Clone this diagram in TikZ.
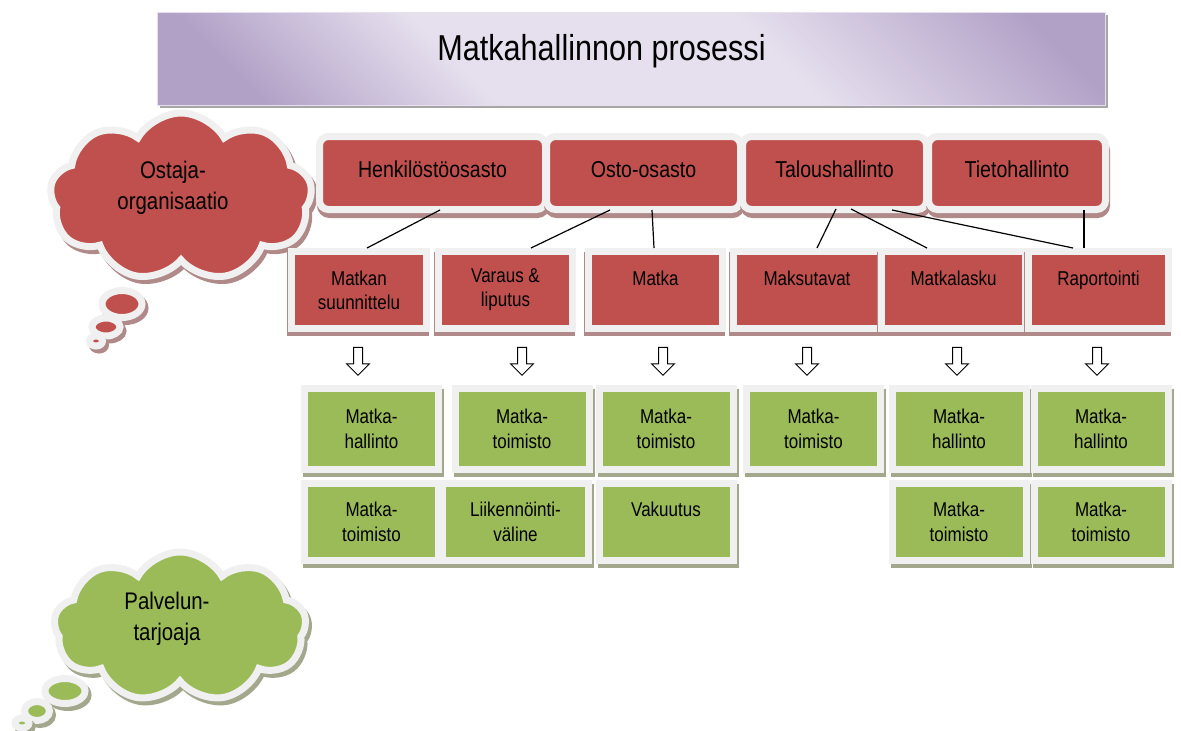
\documentclass[tikz,border=0pt]{standalone}
\usepackage{fontspec}
\setmainfont{Liberation Sans}[FakeStretch=0.85]
\usetikzlibrary{shapes.symbols,shapes.arrows}

\definecolor{deptred}{HTML}{C0504D}
\definecolor{deptshadow}{HTML}{B08A89}
\definecolor{provgreen}{HTML}{9BBB59}
\definecolor{provshadow}{HTML}{A3A78C}
\definecolor{framegray}{HTML}{F0F0F0}
\definecolor{lavlight}{HTML}{E6E0EE}
\definecolor{lavdark}{HTML}{B2A1C7}
\pgfdeclarehorizontalshading{titleshade}{100bp}{color(0bp)=(lavdark); color(22bp)=(lavdark);
  color(38bp)=(lavlight); color(60bp)=(lavlight); color(80bp)=(lavdark); color(100bp)=(lavdark)}

\begin{document}
\begin{tikzpicture}[x=1pt, y=-1pt,
  titlebox/.style={minimum width=948pt, minimum height=93pt, draw=lavlight, line width=0.8pt,
                   shading=titleshade, shading angle=45,
                   preaction={fill=black!35, transform canvas={xshift=3pt, yshift=-3pt}}},
  titlefont/.style={font=\fontsize{36}{40}\selectfont, inner sep=0pt},
  deptbox/.style={rounded corners=9pt, fill=deptred, draw=framegray, line width=7pt,
                  preaction={draw=deptshadow, fill=deptshadow, line width=7pt,
                             transform canvas={xshift=1pt, yshift=-5pt}},
                  minimum height=73pt, text height=17pt, text depth=8pt, inner sep=0pt,
                  font=\fontsize{23}{27}\selectfont},
  taskbox/.style={fill=deptred, draw=framegray, line width=7pt,
                  preaction={draw=deptshadow, fill=deptshadow, line width=7pt,
                             transform canvas={xshift=-1pt, yshift=-4pt}},
                  minimum height=77pt, align=center, inner sep=0pt,
                  font=\fontsize{20}{24}\selectfont},
  provbox/.style={fill=provgreen, draw=framegray, line width=7pt,
                  preaction={draw=provshadow, fill=provshadow, line width=7pt,
                             transform canvas={xshift=2pt, yshift=-4pt}},
                  minimum width=134pt, minimum height=81pt, align=center, inner sep=0pt,
                  font=\fontsize{20}{25}\selectfont},
  redpuff/.style={fill=deptred, draw=framegray, line width=7pt,
                  preaction={draw=deptshadow, fill=deptshadow, line width=7pt,
                             transform canvas={xshift=3pt, yshift=-4pt}}},
  greenpuff/.style={fill=provgreen, draw=framegray, line width=7pt,
                    preaction={draw=provshadow, fill=provshadow, line width=7pt,
                               transform canvas={xshift=3pt, yshift=-4pt}}},
  cloudbase/.style={cloud, cloud puffs=9, cloud puff arc=120, cloud ignores aspect},
  cloudtext/.style={align=center, inner sep=0pt, font=\fontsize{24}{31}\selectfont},
  downarr/.style={single arrow, draw=black, fill=white, line width=1pt, minimum height=28pt,
                  inner sep=4pt, single arrow head extend=7pt, single arrow head indent=0pt,
                  shape border rotate=270},
  link/.style={line width=1.2pt, black}
]
\useasboundingbox (0,0) rectangle (1181,731);

% clouds
\node[cloudbase, redpuff, minimum width=262pt, minimum height=168pt] (buyer) at (181,197) {};
\draw[redpuff] (122,304) ellipse [x radius=20pt, y radius=13.5pt];
\draw[redpuff] (106,327) ellipse [x radius=14pt, y radius=9pt];
\draw[redpuff] (96,341) ellipse [x radius=6.5pt, y radius=5pt];
\node[cloudtext] (buyertext) at ([xshift=-8pt, yshift=9pt]buyer.center) {Ostaja-\\organisaatio};

\node[cloudbase, greenpuff, minimum width=252pt, minimum height=150pt] (provider) at (180,627) {};
\draw[greenpuff] (65,691) ellipse [x radius=20pt, y radius=12.5pt];
\draw[greenpuff] (37,711) ellipse [x radius=12.5pt, y radius=9.5pt];
\draw[greenpuff] (22,723) ellipse [x radius=7pt, y radius=5pt];
\node[cloudtext] (providertext) at ([xshift=-13pt, yshift=8pt]provider.center) {Palvelun-\\tarjoaja};

% title
\node[titlebox] (titlebar) at (631,58.5) {};
\node[titlefont] (titletext) at ([xshift=-29.5pt, yshift=7pt]titlebar.center) {Matkahallinnon prosessi};

% departments
\node[deptbox, minimum width=226pt] (henk) at (432.5,173) {Henkilöstöosasto};
\node[deptbox, minimum width=194pt] (osto) at (643.5,173) {Osto-osasto};
\node[deptbox, minimum width=184pt] (talous) at (834.5,173) {Taloushallinto};
\node[deptbox, minimum width=177pt] (tieto) at (1017,173) {Tietohallinto};

% process steps
\node[taskbox, minimum width=135pt] (plan) at (359,290) {Matkan\\suunnittelu};
\node[taskbox, minimum width=134pt] (booking) at (505.5,290) {Varaus \&\\liputus};
\node[taskbox, minimum width=134pt] (trip) at (655.5,290) {Matka\\\mbox{}};
\node[taskbox, minimum width=147pt] (payment) at (807,290) {Maksutavat\\\mbox{}};
\node[taskbox, minimum width=144pt] (expense) at (953.5,290) {Matkalasku\\\mbox{}};
\node[taskbox, minimum width=140pt] (report) at (1098.5,290) {Raportointi\\\mbox{}};

\draw[link] ([xshift=7.5pt, yshift=3pt]henk.south) -- ([xshift=8pt]plan.north);
\draw[link] ([xshift=-33.5pt, yshift=3pt]osto.south) -- ([xshift=25.5pt]booking.north);
\draw[link] ([xshift=8.5pt, yshift=3pt]osto.south) -- ([xshift=-1.5pt]trip.north);
\draw[link] ([xshift=1.5pt, yshift=4pt]talous.south) -- ([xshift=10pt]payment.north);
\draw[link] ([xshift=16.5pt, yshift=4pt]talous.south) -- ([xshift=-26.5pt]expense.north);
\draw[link] ([xshift=57.5pt, yshift=3pt]talous.south) -- ([xshift=-25.5pt]report.north);
\draw[link] ([xshift=67pt, yshift=3pt]tieto.south) -- ([xshift=-14.5pt]report.north);

% arrows down
\node[downarr] (arr1) at (358,359) {};
\node[downarr] (arr2) at (522,359) {};
\node[downarr] (arr3) at (663,359) {};
\node[downarr] (arr4) at (807,359) {};
\node[downarr] (arr5) at (957,359) {};
\node[downarr] (arr6) at (1097,359) {};

% service providers
\node[provbox] (planmgmt) at (371.5,429) {Matka-\\hallinto};
\node[provbox] (bookagency) at (522,429) {Matka-\\toimisto};
\node[provbox] (tripagency) at (666,429) {Matka-\\toimisto};
\node[provbox] (payagency) at (813.5,429) {Matka-\\toimisto};
\node[provbox] (expmgmt) at (959,429) {Matka-\\hallinto};
\node[provbox] (repmgmt) at (1101,429) {Matka-\\hallinto};

\node[provbox, minimum height=77pt] (planagency) at (371.5,522) {Matka-\\toimisto};
\node[provbox, minimum height=77pt, minimum width=146pt] (bookcarrier) at (515.5,522) {Liikennöinti-\\väline};
\node[provbox, minimum height=77pt] (tripinsur) at (666,522) {Vakuutus\\\mbox{}};
\node[provbox, minimum height=77pt] (expagency) at (959,522) {Matka-\\toimisto};
\node[provbox, minimum height=77pt] (repagency) at (1101,522) {Matka-\\toimisto};
\end{tikzpicture}
\end{document}
